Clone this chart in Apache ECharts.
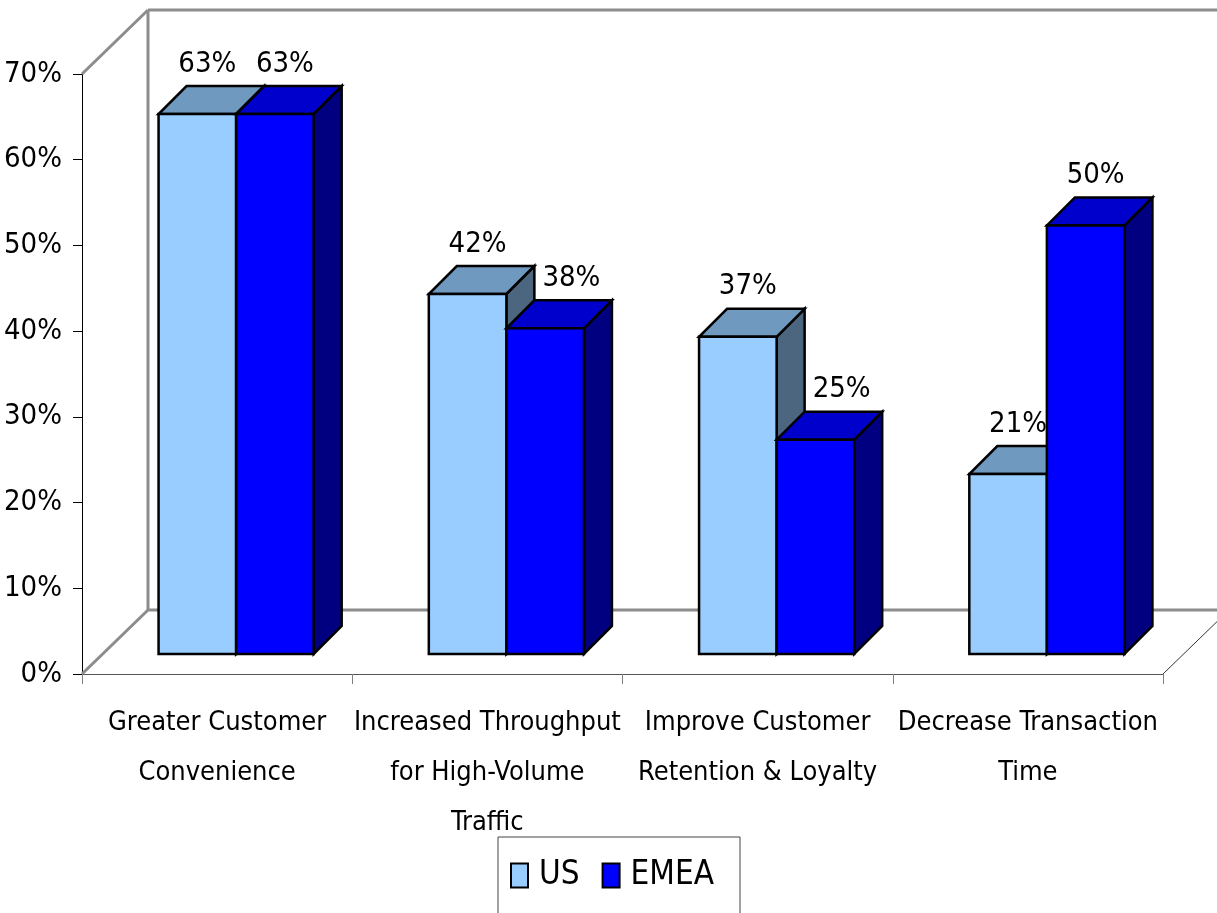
<!DOCTYPE html>
<html>
<head>
<meta charset="utf-8">
<script src="https://cdn.jsdelivr.net/npm/echarts@6/dist/echarts.min.js"></script>
<style>
  html, body { margin: 0; padding: 0; background: #fff; }
  #chart { width: 1217px; height: 913px; }
</style>
</head>
<body>
<div id="chart"></div>
<script>
// Survey categories and share of respondents (percent) per region
const categories = [
  'Greater Customer\nConvenience',
  'Increased Throughput\nfor High-Volume\nTraffic',
  'Improve Customer\nRetention & Loyalty',
  'Decrease Transaction\nTime'
];
const usValues = [63, 42, 37, 21];
const emeaValues = [63, 38, 25, 50];
const yMin = 0, yMax = 70, yStep = 10;

const FONT = "'Liberation Sans Narrow', 'DejaVu Sans Condensed', 'Liberation Sans', sans-serif";

// pseudo-3D geometry (pixels)
const WALL_DX = 66, WALL_DY = -64;   // depth of floor / side wall
const BAR_OFF_X = 19, BAR_OFF_Y = -20; // bar front plane behind axis plane
const BAR_D = 28;                     // bar depth
const BAR_FRAC = 0.287;               // bar width as share of category band

const US_COLORS = { front: '#99CCFF', top: '#7099BF', side: '#4C6680' };
const EMEA_COLORS = { front: '#0000FF', top: '#0000CC', side: '#000080' };

function renderWalls(params, api) {
  const cs = params.coordSys;
  const xL = cs.x, xR = cs.x + cs.width;
  const y0 = api.coord([0, yMin])[1];
  const y1 = api.coord([0, yMax])[1];
  const gray = { stroke: '#8C8C8C', lineWidth: 3 };
  const line = (x1, y1_, x2, y2, style) => ({
    type: 'line', shape: { x1: x1, y1: y1_, x2: x2, y2: y2 }, style: style
  });
  return {
    type: 'group',
    children: [
      line(xL, y1, xL + WALL_DX, y1 + WALL_DY, gray),
      line(xL + WALL_DX, y1 + WALL_DY, xR + WALL_DX + 20, y1 + WALL_DY, gray),
      line(xL + WALL_DX, y1 + WALL_DY, xL + WALL_DX, y0 + WALL_DY, gray),
      line(xL + WALL_DX, y0 + WALL_DY, xR + WALL_DX + 20, y0 + WALL_DY, gray),
      line(xL, y0, xL + WALL_DX, y0 + WALL_DY, gray),
      line(xR, y0, xR + WALL_DX, y0 + WALL_DY, { stroke: '#333', lineWidth: 1 })
    ]
  };
}

// side 0 = left bar of the pair (US), side 1 = right bar (EMEA)
function barRenderer(side, colors) {
  return function (params, api) {
    const idx = api.value(0), val = api.value(1);
    const base = api.coord([idx, 0]);
    const top = api.coord([idx, val]);
    const band = api.size([1, 0])[0];
    const w = band * BAR_FRAC;
    const left = base[0] + BAR_OFF_X + (side === 0 ? -w : 0);
    const right = left + w;
    const yb = base[1] + BAR_OFF_Y;
    const yt = top[1] + BAR_OFF_Y;
    const edge = { stroke: '#000', lineWidth: 2.5, lineJoin: 'miter' };

    // value label sits above the bar top; a right-hand bar shorter than its
    // neighbour pushes its label clear of the neighbour's side face
    let labelX = (left + right) / 2 + 10, align = 'center';
    if (side === 1 && usValues[idx] > val) {
      labelX = left + BAR_D + 8;
      align = 'left';
    }
    return {
      type: 'group',
      children: [
        { type: 'polygon',
          shape: { points: [[right, yt], [right, yb], [right + BAR_D, yb - BAR_D], [right + BAR_D, yt - BAR_D]] },
          style: Object.assign({ fill: colors.side }, edge) },
        { type: 'polygon',
          shape: { points: [[left, yt], [right, yt], [right + BAR_D, yt - BAR_D], [left + BAR_D, yt - BAR_D]] },
          style: Object.assign({ fill: colors.top }, edge) },
        { type: 'rect',
          shape: { x: left, y: yt, width: w, height: yb - yt },
          style: Object.assign({ fill: colors.front }, edge) },
        { type: 'text',
          style: {
            x: labelX, y: yt - 50,
            text: val + '%', fill: '#000',
            font: '29px ' + FONT,
            textAlign: align, textVerticalAlign: 'middle'
          } }
      ]
    };
  };
}

const chart = echarts.init(document.getElementById('chart'), null, { renderer: 'canvas' });
chart.setOption({
  animation: false,
  backgroundColor: '#fff',
  textStyle: { fontFamily: FONT, color: '#000' },
  grid: { left: 82, right: 54, top: 74, bottom: 239, containLabel: false, outerBoundsMode: 'none' },
  legend: {
    left: 498, top: 837,
    orient: 'horizontal',
    data: [
      { name: 'US', itemStyle: { color: US_COLORS.front, borderColor: '#000', borderWidth: 2 } },
      { name: 'EMEA', itemStyle: { color: EMEA_COLORS.front, borderColor: '#000', borderWidth: 2 } }
    ],
    icon: 'rect',
    itemWidth: 17, itemHeight: 24,
    itemGap: 22,
    padding: [22, 26, 40, 12],
    borderColor: '#444', borderWidth: 1,
    textStyle: { fontSize: 33, color: '#000', fontFamily: FONT, padding: [0, 0, 0, 6] }
  },
  xAxis: {
    type: 'category',
    data: categories,
    boundaryGap: true,
    axisLine: { show: true, lineStyle: { color: '#555', width: 1 } },
    axisTick: { show: true, length: 10, lineStyle: { color: '#808080', width: 1 } },
    axisLabel: { interval: 0, fontSize: 27, lineHeight: 50, margin: 24, color: '#000', fontFamily: FONT },
    splitLine: { show: false }
  },
  yAxis: {
    type: 'value',
    min: yMin, max: yMax, interval: yStep,
    axisLine: { show: true, lineStyle: { color: '#000', width: 1 } },
    axisTick: { show: true, length: 9, lineStyle: { color: '#000', width: 1 } },
    axisLabel: { formatter: '{value}%', fontSize: 29, margin: 20, color: '#000', fontFamily: FONT },
    splitLine: { show: false }
  },
  series: [
    { type: 'custom', name: 'walls', renderItem: renderWalls, data: [[0, 0]], silent: true, z: 1 },
    { type: 'custom', name: 'US', renderItem: barRenderer(0, US_COLORS),
      itemStyle: { color: US_COLORS.front },
      data: usValues.map((v, i) => [i, v]), z: 2 },
    { type: 'custom', name: 'EMEA', renderItem: barRenderer(1, EMEA_COLORS),
      itemStyle: { color: EMEA_COLORS.front },
      data: emeaValues.map((v, i) => [i, v]), z: 2 }
  ]
});
</script>
</body>
</html>
